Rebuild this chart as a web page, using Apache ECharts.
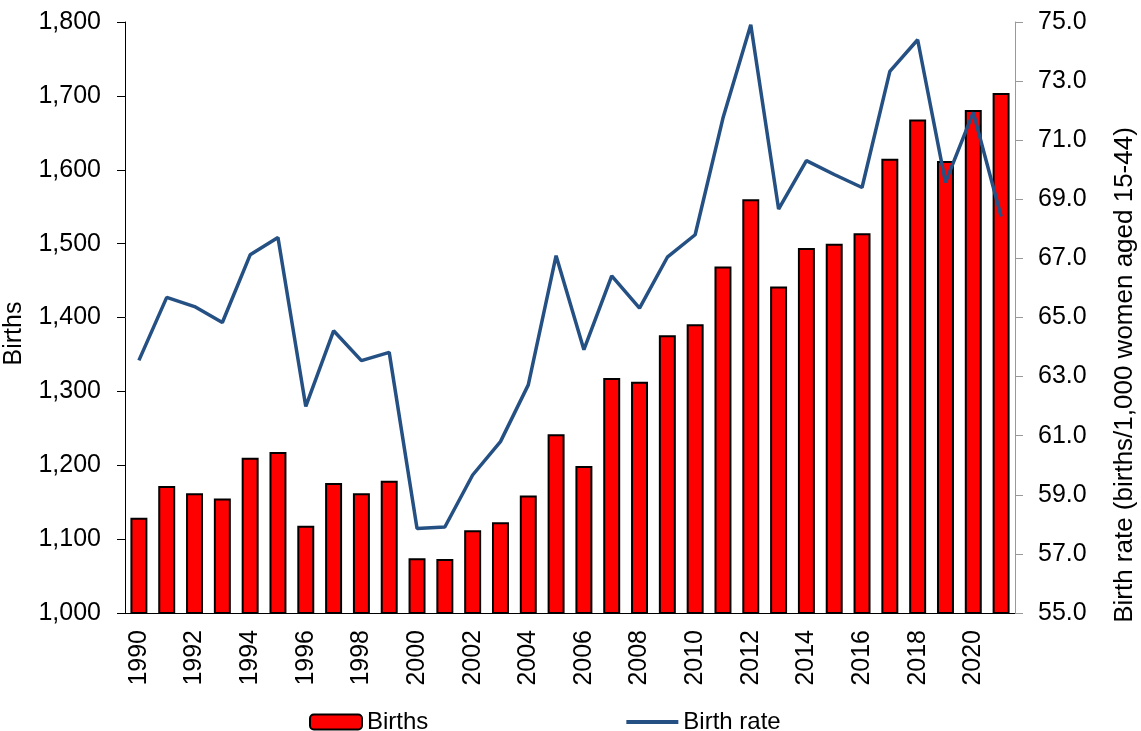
<!DOCTYPE html>
<html>
<head>
	<meta charset="UTF-8">
	<title>Births and birth rate</title>
	<style>
		html, body { margin: 0; padding: 0; background: #fff; }
		#main { width: 1141px; height: 731px; }
	</style>
</head>
<body>
	<div id="main"></div>
</body>
<script src="https://cdn.jsdelivr.net/npm/echarts/dist/echarts.min.js"></script>
<script>
	// years on the x axis
	var years = ['1990','1991','1992','1993','1994','1995','1996','1997','1998','1999',
		'2000','2001','2002','2003','2004','2005','2006','2007','2008','2009',
		'2010','2011','2012','2013','2014','2015','2016','2017','2018','2019',
		'2020','2021'];
	// births (left axis)
	var births = [1129, 1172, 1162, 1155, 1210, 1218, 1118, 1176, 1162, 1179,
		1074, 1073, 1112, 1123, 1159, 1242, 1199, 1318, 1313, 1376,
		1391, 1469, 1560, 1442, 1494, 1500, 1514, 1615, 1668, 1612,
		1681, 1704];
	// birth rate per 1,000 women aged 15-44 (right axis)
	var birthRate = [63.55, 65.68, 65.37, 64.83, 67.12, 67.71, 61.99, 64.55, 63.54, 63.82,
		57.86, 57.91, 59.67, 60.8, 62.72, 67.09, 63.91, 66.41, 65.32, 67.04,
		67.8, 71.75, 74.91, 68.67, 70.31, 69.84, 69.4, 73.33, 74.4, 69.57,
		71.94, 68.42];

	var font = 'Liberation Sans, Arial, sans-serif';

	var myChart = echarts.init(document.getElementById('main'));
	var option = {
		animation: false,
		textStyle: { fontFamily: font, color: '#000' },
		grid: { left: 125, right: 126, top: 22, bottom: 118, containLabel: false, outerBoundsMode: 'none' },
		legend: {
			left: 304,
			top: 705,
			itemWidth: 52,
			itemHeight: 15,
			itemGap: 196,
			textStyle: { fontSize: 24, color: '#000', fontFamily: font },
			data: [
				{ name: 'Births' },
				{ name: 'Birth rate', itemStyle: { opacity: 0 }, lineStyle: { width: 4 } }
			]
		},
		xAxis: {
			type: 'category',
			data: years,
			axisLine: { lineStyle: { color: '#000', width: 1 } },
			axisTick: { interval: 0, length: 7, lineStyle: { color: '#000' } },
			axisLabel: { interval: 1, rotate: 90, fontSize: 25, color: '#000', margin: 17, fontFamily: font }
		},
		yAxis: [
			{
				type: 'value',
				min: 1000,
				max: 1800,
				interval: 100,
				name: 'Births',
				nameLocation: 'middle',
				nameGap: 98,
				nameTextStyle: { fontSize: 25, color: '#000', fontFamily: font, padding: [0, 32, 0, 0] },
				splitLine: { show: false },
				axisLine: { show: true, lineStyle: { color: '#000' } },
				axisTick: { show: true, length: 8, lineStyle: { color: '#000' } },
				axisLabel: {
					fontSize: 25, color: '#000', margin: 24, fontFamily: font,
					formatter: function (v) { return v.toLocaleString('en-US'); }
				}
			},
			{
				type: 'value',
				position: 'right',
				min: 55,
				max: 75,
				interval: 2,
				name: 'Birth rate (births/1,000 women aged 15-44)',
				nameLocation: 'middle',
				nameGap: 97,
				nameTextStyle: { fontSize: 26, color: '#000', fontFamily: font, padding: [0, 115, 0, 0] },
				splitLine: { show: false },
				axisLine: { show: true, lineStyle: { color: '#999' } },
				axisTick: { show: true, length: 8, lineStyle: { color: '#999' } },
				axisLabel: {
					fontSize: 25, color: '#000', margin: 23, fontFamily: font,
					formatter: function (v) { return v.toFixed(1); }
				}
			}
		],
		series: [
			{
				name: 'Births',
				type: 'bar',
				data: births,
				barWidth: '61%',
				itemStyle: { color: '#ff0000', borderColor: '#000', borderWidth: 2 }
			},
			{
				name: 'Birth rate',
				type: 'line',
				yAxisIndex: 1,
				data: birthRate,
				symbol: 'none',
				itemStyle: { color: '#245083' },
				lineStyle: { color: '#245083', width: 3.5 }
			}
		]
	};
	myChart.setOption(option);
</script>
</html>
